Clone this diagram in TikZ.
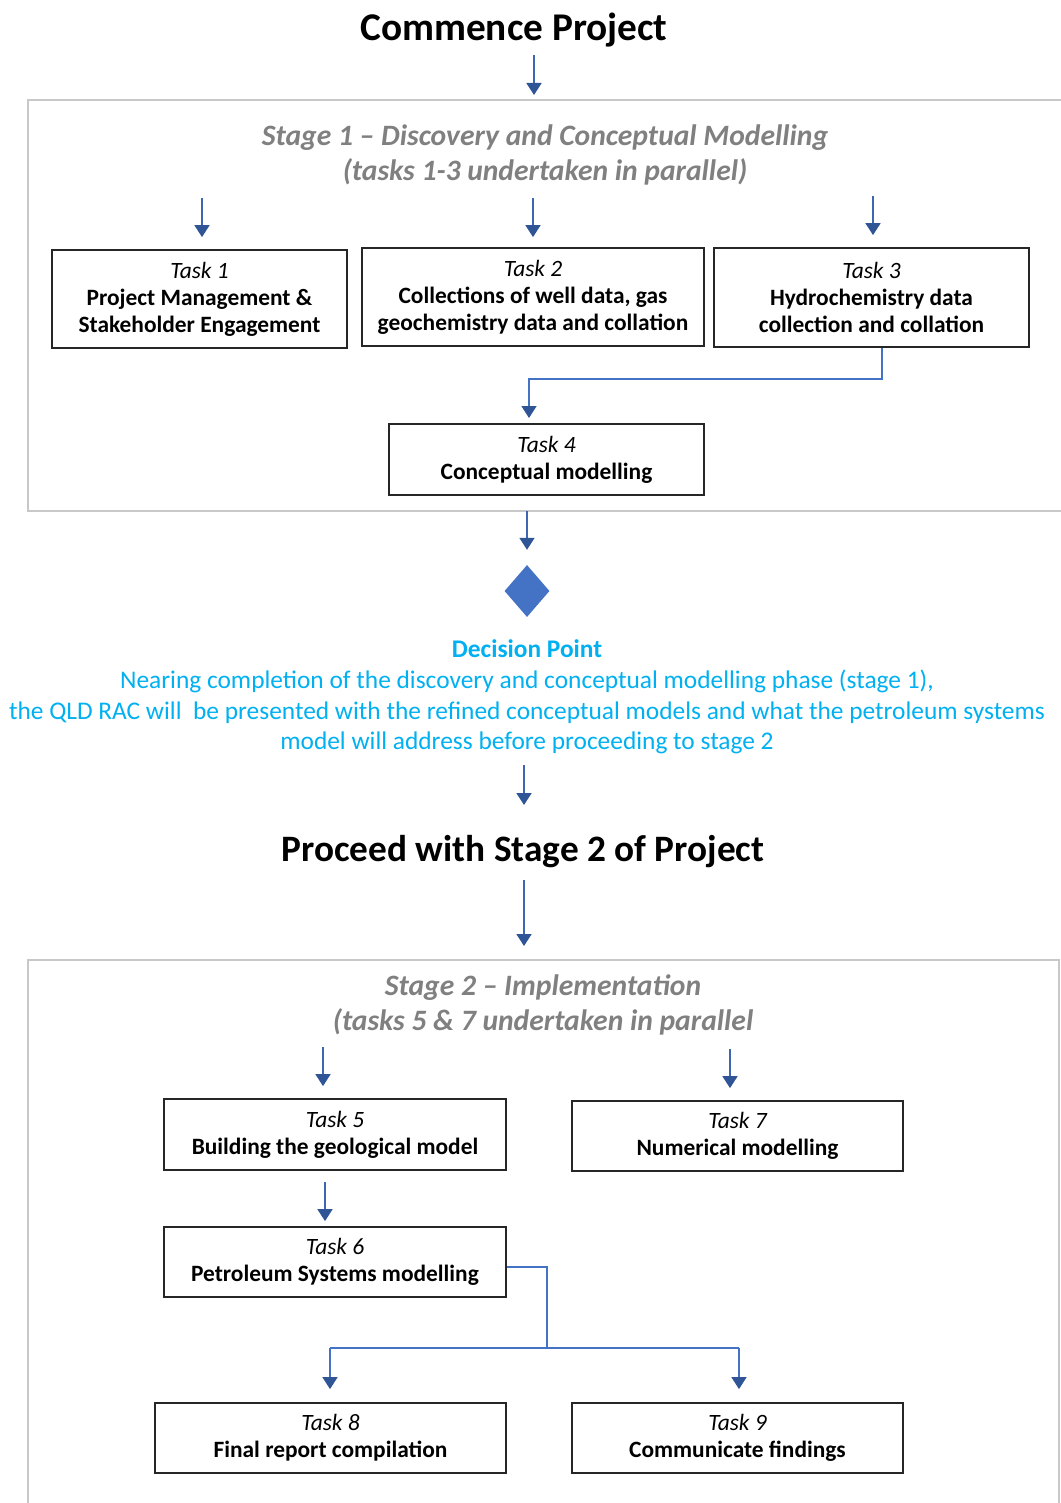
\documentclass[tikz,border=0pt]{standalone}
\usepackage{fontspec}
\setmainfont{Carlito}
\usetikzlibrary{arrows.meta,shapes.geometric}
\definecolor{arrblue}{HTML}{3F66B3}
\definecolor{headblue}{HTML}{2F5597}
\definecolor{lineblue}{HTML}{4472C4}
\definecolor{dpblue}{HTML}{00B0F0}
\definecolor{framegray}{HTML}{C8C8C8}
\definecolor{titlegray}{HTML}{808080}
\begin{document}
\begin{tikzpicture}[x=1pt,y=-1pt,
  taskbox/.style={draw=black!85,line width=1.8pt,align=center,inner sep=0pt,
    font=\fontsize{23.4}{27}\selectfont\bfseries},
  tip/.style={-{Triangle[width=15pt,length=12pt,color=headblue]}},
  arr/.style={draw=arrblue,line width=1.8pt,tip},
  conn/.style={draw=lineblue,line width=1.5pt},
  frame/.style={draw=framegray,line width=2pt},
  bigtitle/.style={font=\fontsize{38}{42}\selectfont\bfseries,inner sep=0pt},
  stagetitle/.style={font=\fontsize{29.6}{35}\selectfont\bfseries\itshape,text=titlegray,align=center,inner sep=0pt},
  dptext/.style={font=\fontsize{25.4}{30.7}\selectfont,text=dpblue,align=center,inner sep=0pt}
]
\useasboundingbox (0,0) rectangle (1060,1503);

% frames
\draw[frame] (1062,100) -- (28,100) -- (28,511) -- (1062,511);
\draw[frame] (28,1505) -- (28,960) -- (1059,960) -- (1059,1505);

% titles
\node[bigtitle,font=\fontsize{39.3}{42}\selectfont\bfseries] (cp) at (514,30) {Commence Project};
\node[stagetitle] (s1) at (545,155) {Stage 1 -- Discovery and Conceptual Modelling\\(tasks 1-3 undertaken in parallel)};

% stage 1 tasks
\node[taskbox,minimum width=295pt,minimum height=98pt] (t1) at (199.5,299) {{\mdseries\itshape Task 1}\\Project Management \&\\Stakeholder Engagement};
\node[taskbox,minimum width=342pt,minimum height=98pt] (t2) at (533,297) {{\mdseries\itshape Task 2}\\Collections of well data, gas\\geochemistry data and collation};
\node[taskbox,minimum width=315pt,minimum height=99pt] (t3) at (871.5,297.5) {{\mdseries\itshape Task 3}\\Hydrochemistry data\\collection and collation};
\node[taskbox,minimum width=315pt,minimum height=71pt] (t4) at (546.5,459.5) {{\mdseries\itshape Task 4}\\Conceptual modelling};

% decision
\node[diamond,fill=lineblue,minimum width=45pt,minimum height=52pt,inner sep=0pt] (dp) at (527,591) {};
\node[dptext] (dpt) at (527,697) {{\bfseries Decision Point}\\Nearing completion of the discovery and conceptual modelling phase (stage 1),\\the QLD RAC will\ \ be presented with the refined conceptual models and what the petroleum systems\\model will address before proceeding to stage 2};

\node[bigtitle,font=\fontsize{37.3}{42}\selectfont\bfseries] (p2) at (523,852) {Proceed with Stage 2 of Project};
\node[stagetitle] (s2) at (543,1005) {Stage 2 -- Implementation\\(tasks 5 \& 7 undertaken in parallel};

% stage 2 tasks
\node[taskbox,minimum width=342pt,minimum height=71pt] (t5) at (335,1134.5) {{\mdseries\itshape Task 5}\\Building the geological model};
\node[taskbox,minimum width=331pt,minimum height=70pt] (t7) at (737.5,1136) {{\mdseries\itshape Task 7}\\Numerical modelling};
\node[taskbox,minimum width=342pt,minimum height=70pt] (t6) at (335,1262) {{\mdseries\itshape Task 6}\\Petroleum Systems modelling};
\node[taskbox,minimum width=351pt,minimum height=70pt] (t8) at (330.5,1438) {{\mdseries\itshape Task 8}\\Final report compilation};
\node[taskbox,minimum width=331pt,minimum height=70pt] (t9) at (737.5,1438) {{\mdseries\itshape Task 9}\\Communicate findings};

% arrow start points
\coordinate (a0) at (534,55);   \coordinate (a0e) at (534,95);
\coordinate (a1) at (202,198);
\coordinate (a2) at (533,198);
\coordinate (a3) at (873,196);
\coordinate (j3) at (882,379);
\coordinate (t4in) at (529,418);
\coordinate (a4) at (527,511);
\coordinate (a5) at (524,765);  \coordinate (a5e) at (524,805);
\coordinate (a6) at (524,880);  \coordinate (a6e) at (524,946);
\coordinate (b5) at (323,1047);
\coordinate (b7) at (730,1049);
\coordinate (b6) at (325,1182);
\coordinate (j6) at (547,1267);
\coordinate (j6b) at (547,1348);
\coordinate (b8) at (330,1348);
\coordinate (b9) at (739,1348);

% arrows
\draw[arr] (a0) -- (a0e);
\draw[arr,shorten >=12pt] (a1) -- (a1 |- t1.north);
\draw[arr,shorten >=10pt] (a2) -- (a2 |- t2.north);
\draw[arr,shorten >=12pt] (a3) -- (a3 |- t3.north);
\draw[conn,tip] (t3.south -| j3) -- (j3) -| (t4in);
\draw[arr,shorten >=15pt] (a4) -- (dp.north);
\draw[arr] (a5) -- (a5e);
\draw[arr] (a6) -- (a6e);
\draw[arr,shorten >=12pt] (b5) -- (b5 |- t5.north);
\draw[arr,shorten >=12pt] (b7) -- (b7 |- t7.north);
\draw[arr,shorten >=5pt] (b6) -- (b6 |- t6.north);
\draw[conn] (t6.east |- j6) -- (j6) -- (j6b);
\draw[conn] (b8) -- (b9);
\draw[conn,tip,shorten >=13pt] (b8) -- (b8 |- t8.north);
\draw[conn,tip,shorten >=13pt] (b9) -- (b9 |- t9.north);
\end{tikzpicture}
\end{document}
